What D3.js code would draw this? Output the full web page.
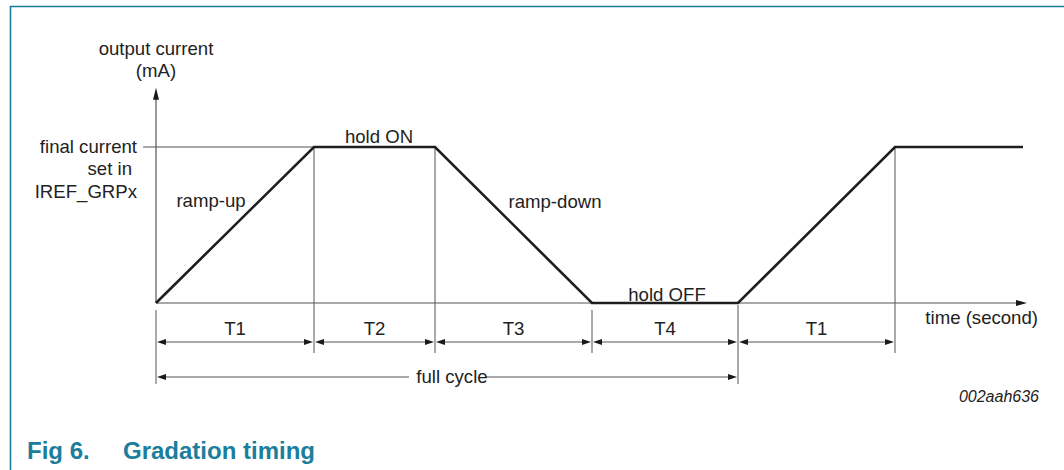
<!DOCTYPE html>
<html>
<head>
<meta charset="utf-8">
<script src="https://cdn.jsdelivr.net/npm/d3@7"></script>
<style>
  html, body { margin: 0; padding: 0; background: #fff; }
  svg { display: block; }
  text { font-family: "Liberation Sans", Arial, Helvetica, sans-serif; fill: #222; }
</style>
</head>
<body>
<svg id="chart" width="1064" height="470"></svg>
<script>
// ---- data ----
const phases = ["T1", "T2", "T3", "T4", "T1"];
const durations = [158, 121, 157, 146, 157];      // width of each phase (time units)
const tailTime = 128;                               // flat part after the last ramp-up
const waveLevel = [0, 1, 1, 0, 0, 1, 1];            // normalised current at each breakpoint
const segLabels = ["ramp-up", "hold ON", "ramp-down", "hold OFF"];
const yLabels = ["final current", "set in", "IREF_GRPx"];
const axisTitleY = ["output current", "(mA)"];
const axisTitleX = "time (second)";
const cycleLabel = "full cycle";
const figId = "002aah636";
const figNum = "Fig 6.";
const figTitle = "Gradation timing";

// ---- derived ----
const bounds = [0];
durations.forEach(d => bounds.push(bounds[bounds.length - 1] + d));
const waveTime = bounds.concat([bounds[bounds.length - 1] + tailTime]);
const timeMax = waveTime[waveTime.length - 1] + 4;

const svg = d3.select("#chart");
const x = d3.scaleLinear().domain([0, timeMax]).range([156, 1027]);
const y = d3.scaleLinear().domain([0, 1]).range([303, 147]);
const yTop = 1.38;
const FS = 18.6;

const thin = "#555";
const teal = "#1a7e9c";

// frame
svg.append("line").attr("x1", 10).attr("x2", 1064).attr("y1", 6.5).attr("y2", 6.5)
  .attr("stroke", teal).attr("stroke-width", 1.6);
svg.append("line").attr("x1", 10.5).attr("x2", 10.5).attr("y1", 6).attr("y2", 470)
  .attr("stroke", teal).attr("stroke-width", 1.6);

function arrowHead(tipX, tipY, dir, len, half) {
  let pts;
  if (dir === "right") pts = [[tipX, tipY], [tipX - len, tipY - half], [tipX - len, tipY + half]];
  else if (dir === "left") pts = [[tipX, tipY], [tipX + len, tipY - half], [tipX + len, tipY + half]];
  else pts = [[tipX, tipY], [tipX - half, tipY + len], [tipX + half, tipY + len]];
  svg.append("path").attr("d", d3.line()(pts) + "Z").attr("fill", "#1a1a1a");
}

// axes
svg.append("line").attr("x1", x(0)).attr("x2", x(0)).attr("y1", y(0)).attr("y2", y(yTop) + 6)
  .attr("stroke", thin).attr("stroke-width", 1.2);
arrowHead(x(0), y(yTop), "up", 12, 3);
svg.append("line").attr("x1", x(0)).attr("x2", x(timeMax) - 6).attr("y1", y(0)).attr("y2", y(0))
  .attr("stroke", thin).attr("stroke-width", 1.2);
arrowHead(x(timeMax), y(0), "right", 11, 3);

// reference line for final current
svg.append("line").attr("x1", 143).attr("x2", x(bounds[1])).attr("y1", y(1)).attr("y2", y(1))
  .attr("stroke", thin).attr("stroke-width", 1);

// extension lines
const extTop = [null, y(1), y(1), y(0) + 7, y(0) + 2, y(1)];
const extBottom = [384, 353, 353, 353, 384, 353];
bounds.forEach((b, i) => {
  const top = i === 0 ? y(0) + 7 : extTop[i];
  svg.append("line").attr("x1", x(b)).attr("x2", x(b)).attr("y1", top).attr("y2", extBottom[i])
    .attr("stroke", thin).attr("stroke-width", 1);
});

// waveform
const wave = waveTime.map((t, i) => [x(t), y(waveLevel[i])]);
svg.append("path").attr("d", d3.line()(wave)).attr("fill", "none")
  .attr("stroke", "#1e1e1e").attr("stroke-width", 2.6).attr("stroke-linejoin", "miter");

// dimension arrows
const dimY = 342;
phases.forEach((p, i) => {
  const a = x(bounds[i]) + 1, b = x(bounds[i + 1]) - 1;
  svg.append("line").attr("x1", a + 8).attr("x2", b - 8).attr("y1", dimY).attr("y2", dimY)
    .attr("stroke", thin).attr("stroke-width", 1);
  arrowHead(a, dimY, "left", 9, 3);
  arrowHead(b, dimY, "right", 9, 3);
  svg.append("text").attr("x", (x(bounds[i]) + x(bounds[i + 1])) / 2).attr("y", 335)
    .attr("text-anchor", "middle").attr("font-size", FS).text(p);
});

// full cycle arrow
const cycY = 377;
const cx0 = x(bounds[0]) + 1, cx1 = x(bounds[4]) - 1;
svg.append("line").attr("x1", cx0 + 8).attr("x2", 409).attr("y1", cycY).attr("y2", cycY)
  .attr("stroke", thin).attr("stroke-width", 1);
svg.append("line").attr("x1", 486).attr("x2", cx1 - 8).attr("y1", cycY).attr("y2", cycY)
  .attr("stroke", thin).attr("stroke-width", 1);
arrowHead(cx0, cycY, "left", 9, 3);
arrowHead(cx1, cycY, "right", 9, 3);
svg.append("text").attr("x", 452).attr("y", 383).attr("text-anchor", "middle")
  .attr("font-size", FS).text(cycleLabel);

// segment labels
const segPos = [
  { x: 211, y: 207 },
  { x: 379, y: 143 },
  { x: 555, y: 208 },
  { x: 667, y: 301 }
];
segLabels.forEach((s, i) => {
  svg.append("text").attr("x", segPos[i].x).attr("y", segPos[i].y).attr("text-anchor", "middle")
    .attr("font-size", FS).text(s);
});

// y labels
const yLabelBase = [153, 175, 198];
const yLabelRight = [137, 132, 137];
yLabels.forEach((s, i) => {
  svg.append("text").attr("x", yLabelRight[i]).attr("y", yLabelBase[i]).attr("text-anchor", "end")
    .attr("font-size", FS).text(s);
});

// axis titles
[55, 77].forEach((by, i) => {
  svg.append("text").attr("x", x(0)).attr("y", by).attr("text-anchor", "middle")
    .attr("font-size", FS).text(axisTitleY[i]);
});
svg.append("text").attr("x", 1038).attr("y", 324).attr("text-anchor", "end")
  .attr("font-size", FS).text(axisTitleX);

// figure id
svg.append("text").attr("x", 1039).attr("y", 402).attr("text-anchor", "end")
  .attr("font-size", 16).attr("font-style", "italic").text(figId);

// caption
svg.append("text").attr("x", 27).attr("y", 459).attr("font-size", 24).attr("font-weight", "bold")
  .style("fill", teal).text(figNum);
svg.append("text").attr("x", 123).attr("y", 459).attr("font-size", 24).attr("font-weight", "bold")
  .style("fill", teal).text(figTitle);
</script>
</body>
</html>
